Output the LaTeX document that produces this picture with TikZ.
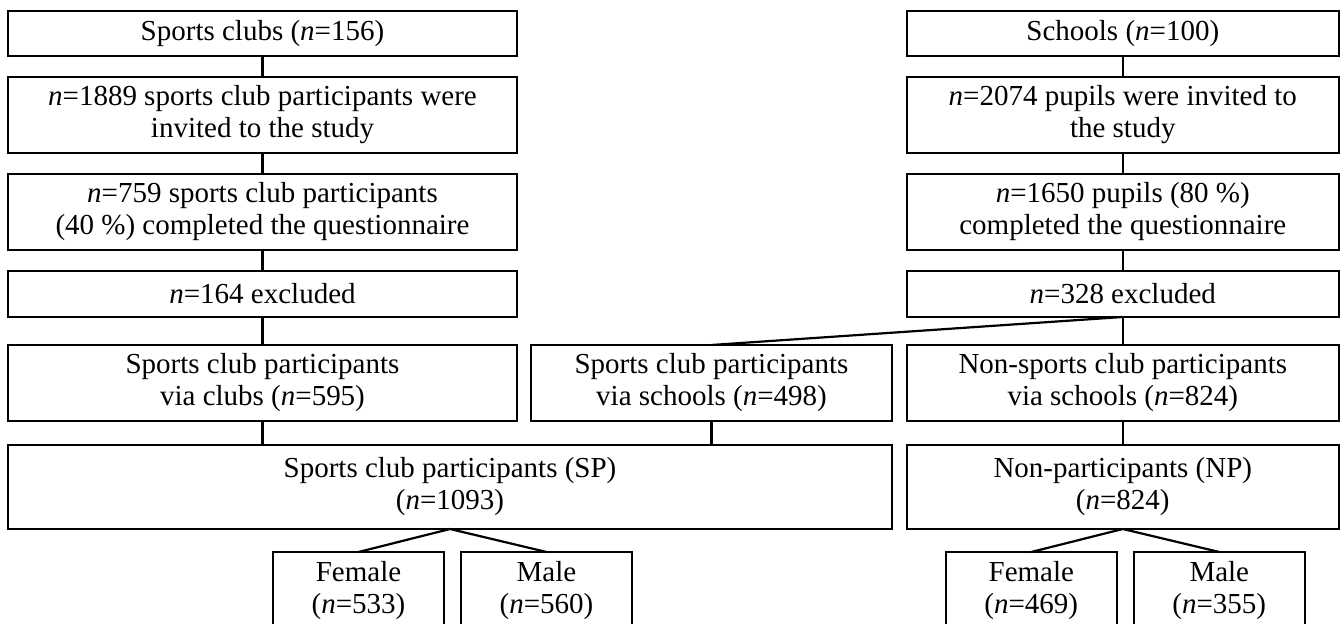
\documentclass[tikz,border=0pt]{standalone}
\usepackage{fontspec}
\setmainfont{Liberation Serif}
\usepackage{tikz}
\usetikzlibrary{positioning,calc}
\tikzset{
	flow/.style={line width=1.1pt,node distance=10.5pt},
	stage/.style={rectangle,draw,line width=1.1pt,outer sep=0pt,inner sep=0pt,align=center,
		font=\fontsize{14.5}{16}\selectfont},
	wide/.style={stage,minimum width=254.5pt},
	narrow/.style={stage,minimum width=215.8pt},
	sex/.style={stage,minimum width=85.5pt,minimum height=39pt},
	oneline/.style={minimum height=22.5pt},
	twoline/.style={minimum height=38pt}
}

\begin{document}
\begin{tikzpicture}[flow]
	\useasboundingbox (0,0) rectangle (670pt,-312pt);
	
	% clubs
	\node[wide,oneline,anchor=north west] (clubs) at (4pt,-5.5pt) {Sports clubs (\textit{n}=156)};
	\node[wide,twoline] (clubinv) [below= of clubs] {\textit{n}=1889 sports club participants were\\invited to the study};
	\node[wide,twoline] (clubdone) [below= of clubinv] {\textit{n}=759 sports club participants\\(40 \%) completed the questionnaire};
	\node[wide,minimum height=23pt] (clubexcl) [below= of clubdone] {\textit{n}=164 excluded};
	\node[wide,twoline] (viaclubs) [below=14pt of clubexcl] {Sports club participants\\via clubs (\textit{n}=595)};
	
	% schools
	\node[narrow,oneline,anchor=north east] (schools) at (669.3pt,-5.5pt) {Schools (\textit{n}=100)};
	\node[narrow,twoline] (pupinv) [below= of schools] {\textit{n}=2074 pupils were invited to\\the study};
	\node[narrow,twoline] (pupdone) [below= of pupinv] {\textit{n}=1650 pupils (80 \%)\\completed the questionnaire};
	\node[narrow,minimum height=23pt] (pupexcl) [below= of pupdone] {\textit{n}=328 excluded};
	\node[narrow,twoline] (nonsport) [below=14pt of pupexcl] {Non-sports club participants\\via schools (\textit{n}=824)};
	\node[stage,twoline,minimum width=180.5pt] (viaschools) [left=7.5pt of nonsport] {Sports club participants\\via schools (\textit{n}=498)};
	
	% groups
	\node[stage,minimum width=442pt,minimum height=42pt,anchor=north west] (sp) at ($(viaclubs.south west)+(0,-12pt)$) {Sports club participants (SP)\\(\textit{n}=1093)};
	\node[narrow,minimum height=42pt] (np) [below=12pt of nonsport] {Non-participants (NP)\\(\textit{n}=824)};
	
	\node[sex,anchor=north east] (spf) at ($(sp.south)+(-3pt,-11.5pt)$) {Female\\(\textit{n}=533)};
	\node[sex,anchor=north west] (spm) at ($(sp.south)+(5.5pt,-11.5pt)$) {Male\\(\textit{n}=560)};
	\node[sex,anchor=north east] (npf) at ($(np.south)+(-3pt,-11.5pt)$) {Female\\(\textit{n}=469)};
	\node[sex,anchor=north west] (npm) at ($(np.south)+(5.5pt,-11.5pt)$) {Male\\(\textit{n}=355)};
	
	\path (clubs) edge (clubinv);
	\path (clubinv) edge (clubdone);
	\path (clubdone) edge (clubexcl);
	\path (clubexcl) edge (viaclubs);
	\path (viaclubs.south) edge (viaclubs.south |- sp.north);
	
	\path (schools) edge (pupinv);
	\path (pupinv) edge (pupdone);
	\path (pupdone) edge (pupexcl);
	\path (pupexcl) edge (nonsport);
	\path (pupexcl.south) edge (viaschools.north);
	\path (viaschools.south) edge (viaschools.south |- sp.north);
	\path (nonsport) edge (np);
	
	\path (sp.south) edge (spf.north);
	\path (sp.south) edge (spm.north);
	\path (np.south) edge (npf.north);
	\path (np.south) edge (npm.north);
\end{tikzpicture}
\end{document}
